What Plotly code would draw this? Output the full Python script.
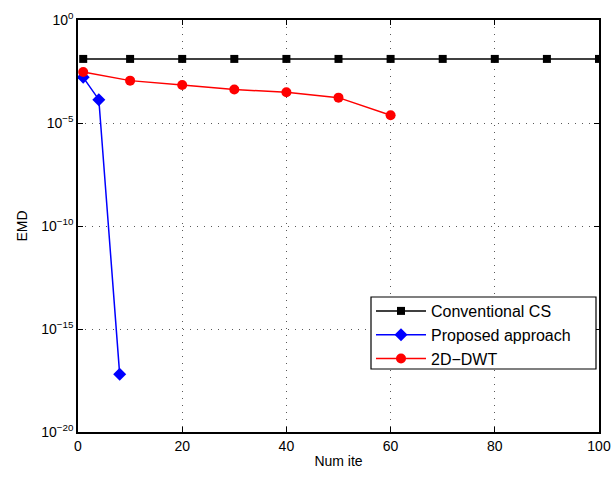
import plotly.graph_objects as go

# Iteration counts and EMD values for each method
conv_x = [1, 10, 20, 30, 40, 50, 60, 70, 80, 90, 100]
conv_y = [0.0129] * 11

prop_x = [1, 4, 8]
prop_y = [1.65e-3, 1.36e-4, 6.3e-18]

dwt_x = [1, 10, 20, 30, 40, 50, 60]
dwt_y = [3.0e-3, 1.14e-3, 7.0e-4, 4.2e-4, 3.1e-4, 1.7e-4, 2.4e-5]

x_ticks = [0, 20, 40, 60, 80, 100]
y_exps = [0, -5, -10, -15, -20]

FONT = "Liberation Sans, Arial, Helvetica, sans-serif"

W, H = 613, 477
ML, MR, MT, MB = 78, 14, 20, 45
PW, PH = W - ML - MR, H - MT - MB


def px_to_paper(x, y):
    """Convert pixel position (from top-left) to paper coordinates of the plot area."""
    return (x - ML) / PW, (H - MB - y) / PH


fig = go.Figure()
fig.add_trace(go.Scatter(
    x=conv_x, y=conv_y, mode="lines+markers", name="Conventional CS",
    line=dict(color="black", width=1.5),
    marker=dict(symbol="square", size=8, color="black")))
fig.add_trace(go.Scatter(
    x=prop_x, y=prop_y, mode="lines+markers", name="Proposed approach",
    line=dict(color="blue", width=1.5),
    marker=dict(symbol="diamond", size=10, color="blue")))
fig.add_trace(go.Scatter(
    x=dwt_x, y=dwt_y, mode="lines+markers", name="2D\u2212DWT",
    line=dict(color="red", width=1.5),
    marker=dict(symbol="circle", size=10, color="red")))

axis_common = dict(
    showline=True, linecolor="black", linewidth=1.5, mirror="ticks",
    ticks="inside", ticklen=5, tickcolor="black",
    showgrid=True, gridcolor="rgba(0,0,0,0.65)", gridwidth=1, griddash="1px,6px",
    zeroline=False, automargin=False,
    tickfont=dict(family=FONT, size=14, color="black"),
)

fig.update_xaxes(
    range=[0, 100], tickvals=x_ticks, ticktext=[str(v) for v in x_ticks],
    title=dict(text="Num ite", font=dict(family=FONT, size=14, color="black"), standoff=4),
    **axis_common)
fig.update_yaxes(
    type="log", range=[-20, 0],
    tickvals=[10.0 ** e for e in y_exps],
    ticktext=[f"10<sup>{e}</sup>".replace("-", "\u2212") for e in y_exps],
    title=dict(text="EMD", font=dict(family=FONT, size=14, color="black"), standoff=10),
    **axis_common)

# Legend frame drawn as a rectangle so its padding can be set freely
bx0, by0 = px_to_paper(371, 369)
bx1, by1 = px_to_paper(596, 297)
fig.add_shape(type="rect", xref="paper", yref="paper",
              x0=bx0, y0=by0, x1=bx1, y1=by1,
              line=dict(color="black", width=1.2), fillcolor="white", layer="above")

lx, ly = px_to_paper(371, 294)
fig.update_layout(
    width=W, height=H,
    margin=dict(l=ML, r=MR, t=MT, b=MB),
    paper_bgcolor="white", plot_bgcolor="white",
    font=dict(family=FONT, color="black"),
    legend=dict(
        x=lx, y=ly, xanchor="left", yanchor="top",
        bgcolor="rgba(0,0,0,0)", borderwidth=0,
        font=dict(family=FONT, size=16, color="black"),
        itemwidth=50, tracegroupgap=0,
    ),
    showlegend=True,
)

fig.write_html("out.html")
